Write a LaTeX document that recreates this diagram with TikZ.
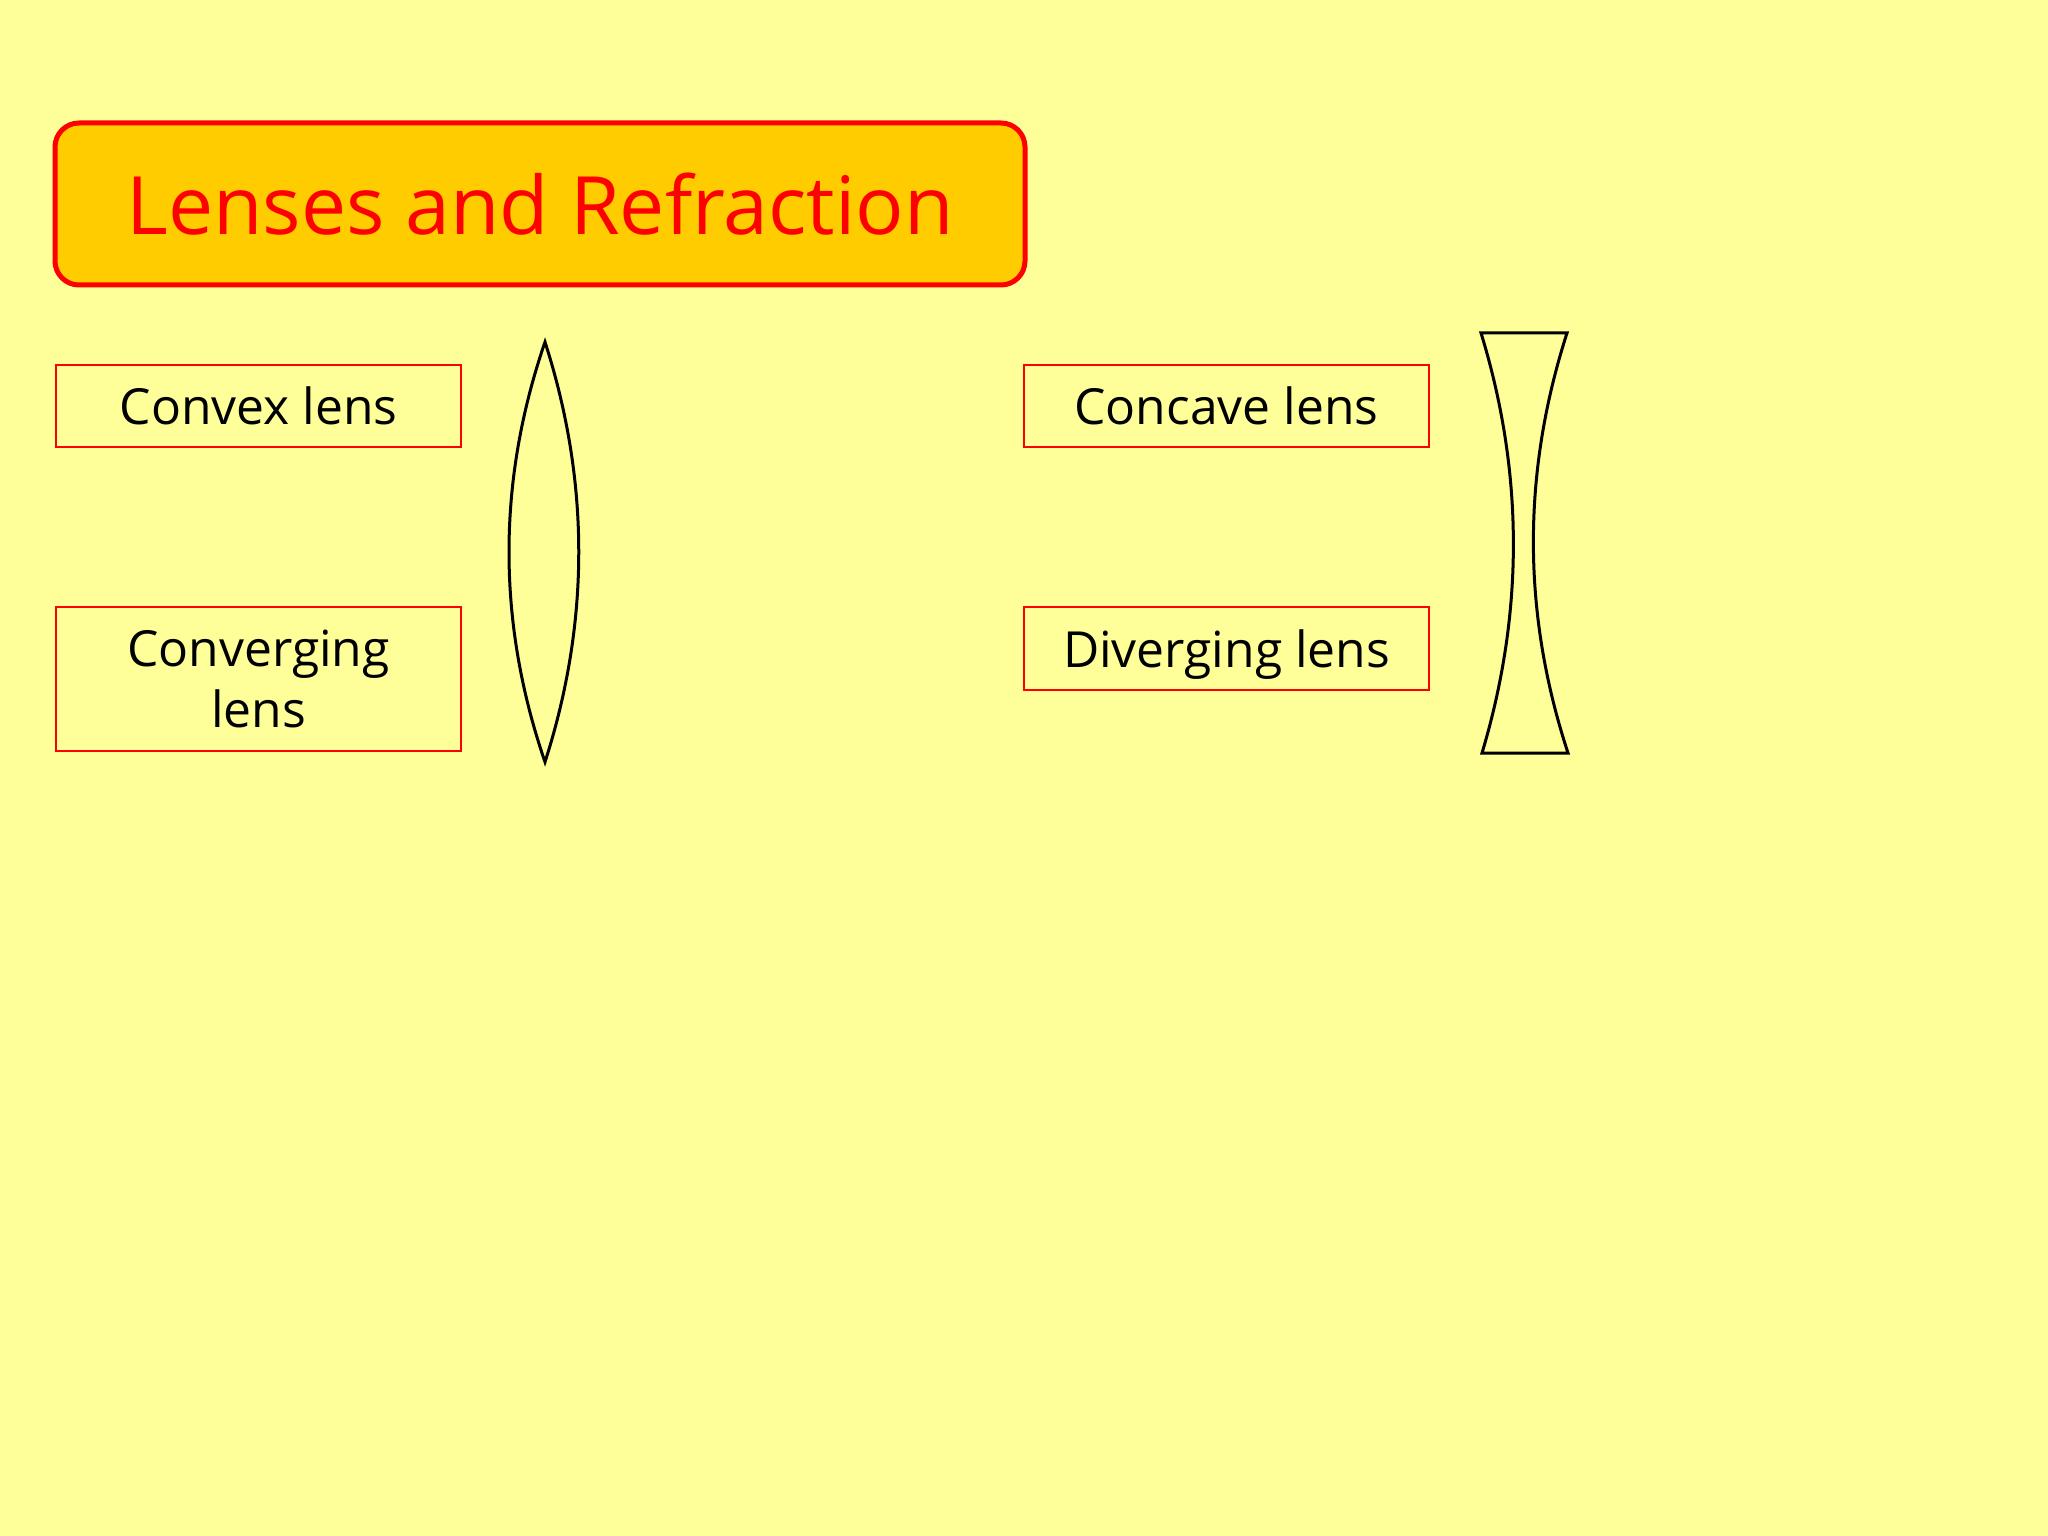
\documentclass[tikz,border=0pt]{standalone}
\usepackage{fontspec}
\setmainfont{Open Sans}
\definecolor{bgyellow}{HTML}{FFFF99}
\definecolor{titlefill}{HTML}{FFCC00}
\definecolor{boxred}{HTML}{FF0000}
\begin{document}
\begin{tikzpicture}[x=0.3515625pt,y=-0.3515625pt,
  titlebox/.style={draw=boxred,fill=titlefill,line width=5*0.3515625pt,rounded corners=24*0.3515625pt,
    minimum width=970*0.3515625pt,minimum height=162*0.3515625pt,inner sep=0pt,
    text=boxred,font=\fontsize{28.3}{34}\selectfont},
  labelbox/.style={draw=boxred,line width=2*0.3515625pt,minimum width=405*0.3515625pt,
    inner sep=0pt,align=center,font=\fontsize{17.5}{21.5}\selectfont,text=black},
  lensline/.style={draw=black,line width=3*0.3515625pt,line join=miter}]
\fill[bgyellow] (0,0) rectangle (2048,1536);
\useasboundingbox (0,0) rectangle (2048,1536);
\node[titlebox] (title) at (540,204) {Lenses and Refraction};
\node[labelbox,minimum height=82*0.3515625pt] (convex) at (258.5,406) {Convex lens};
\node[labelbox,minimum height=144*0.3515625pt] (converging) at (258.5,679) {Converging\\lens};
\node[labelbox,minimum height=82*0.3515625pt] (concave) at (1226.5,406) {Concave lens};
\node[labelbox,minimum height=83*0.3515625pt,text depth=0pt] (diverging) at (1226.5,648.5) {Diverging lens};
% convex lens
\draw[lensline] (545,342) .. controls (497,482) and (497,622) .. (545,762)
  .. controls (590,622) and (590,482) .. cycle;
% concave lens
\draw[lensline] (1481,333) -- (1567,333)
  .. controls (1522,473) and (1522,613) .. (1568,753)
  -- (1482,753)
  .. controls (1524,613) and (1524,473) .. cycle;
\end{tikzpicture}
\end{document}
